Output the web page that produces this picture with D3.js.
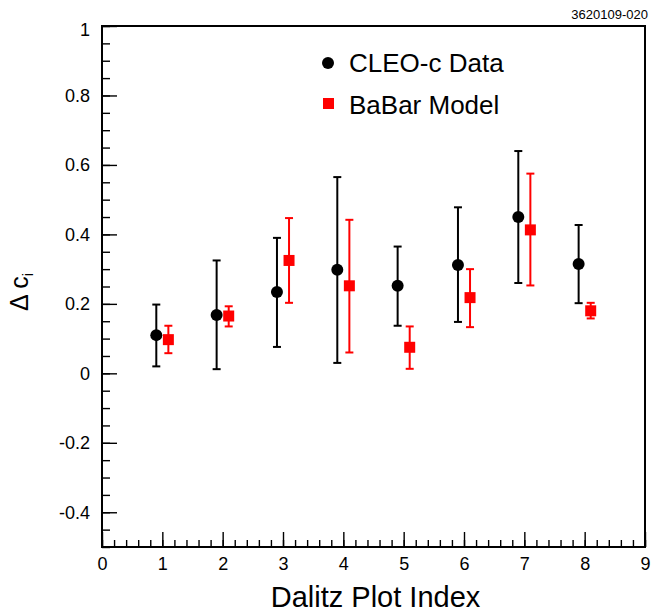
<!DOCTYPE html>
<html>
<head>
<meta charset="utf-8">
<script src="https://cdn.jsdelivr.net/npm/d3@7"></script>
<style>
  body { margin: 0; background: #fff; }
  svg { font-family: "Liberation Sans", Arial, Helvetica, sans-serif; }
  .axis path { display: none; }
  .axis line { stroke: #000; stroke-width: 1.4; }
  .axis text { font-size: 18px; fill: #000; }
</style>
</head>
<body>
<div id="chart"></div>
<script>
// Dalitz plot bins
var bins = [1, 2, 3, 4, 5, 6, 7, 8];

// CLEO-c data: value, lower and upper end of error bar
var cleoVal = [0.110, 0.168, 0.234, 0.298, 0.252, 0.312, 0.450, 0.315];
var cleoLo  = [0.020, 0.012, 0.076, 0.030, 0.137, 0.148, 0.260, 0.202];
var cleoHi  = [0.198, 0.325, 0.390, 0.565, 0.365, 0.478, 0.640, 0.427];

// BaBar model
var babarVal = [0.097, 0.165, 0.325, 0.252, 0.075, 0.218, 0.413, 0.180];
var babarLo  = [0.058, 0.135, 0.203, 0.060, 0.013, 0.133, 0.253, 0.158];
var babarHi  = [0.137, 0.193, 0.447, 0.442, 0.135, 0.300, 0.575, 0.203];

var xTicks = [0, 1, 2, 3, 4, 5, 6, 7, 8, 9];
var yTicks = [-0.4, -0.2, 0, 0.2, 0.4, 0.6, 0.8, 1];
var yTickLabels = ['-0.4', '-0.2', '0', '0.2', '0.4', '0.6', '0.8', '1'];

var W = 651, H = 614;
var m = {left: 102, right: 645, top: 26, bottom: 547};

var svg = d3.select('#chart').append('svg')
  .attr('width', W)
  .attr('height', H);

var x = d3.scaleLinear().domain([0, 9]).range([m.left, m.right]);
var y = d3.scaleLinear().domain([-0.5, 1]).range([m.bottom, m.top]);

// minor ticks
svg.append('g')
  .attr('class', 'axis')
  .attr('transform', 'translate(0,' + m.bottom + ')')
  .call(d3.axisBottom(x).tickValues(d3.range(0, 9.001, 0.2)).tickSize(-7).tickFormat(''));

svg.append('g')
  .attr('class', 'axis')
  .attr('transform', 'translate(' + m.left + ',0)')
  .call(d3.axisLeft(y).tickValues(d3.range(-0.5, 1.001, 0.05)).tickSize(-8).tickFormat(''));

// major ticks + labels
svg.append('g')
  .attr('class', 'axis')
  .attr('transform', 'translate(0,' + m.bottom + ')')
  .call(d3.axisBottom(x).tickValues(xTicks).tickSize(-15).tickPadding(10).tickFormat(d3.format('d')));

var yAx = svg.append('g')
  .attr('class', 'axis')
  .attr('transform', 'translate(' + m.left + ',0)')
  .call(d3.axisLeft(y).tickValues(yTicks).tickSize(-15).tickPadding(12)
    .tickFormat(function(d, i) { return yTickLabels[i]; }));

// top label sits a little below the frame corner
yAx.selectAll('.tick text').filter(function(d) { return d === 1; }).attr('y', 4);

// frame
svg.append('rect')
  .attr('x', m.left)
  .attr('y', m.top)
  .attr('width', m.right - m.left)
  .attr('height', m.bottom - m.top)
  .attr('fill', 'none')
  .attr('stroke', '#000')
  .attr('stroke-width', 2);

function drawSeries(vals, lo, hi, offset, color, isCircle) {
  var g = svg.append('g');
  var data = bins.map(function(b, i) {
    return {x: b + offset, v: vals[i], lo: lo[i], hi: hi[i]};
  });

  g.selectAll('line.bar')
    .data(data)
    .enter().append('line')
    .attr('x1', function(d) { return x(d.x); })
    .attr('x2', function(d) { return x(d.x); })
    .attr('y1', function(d) { return y(d.lo); })
    .attr('y2', function(d) { return y(d.hi); })
    .attr('stroke', color)
    .attr('stroke-width', 2);

  ['lo', 'hi'].forEach(function(k) {
    g.selectAll('line.cap-' + k)
      .data(data)
      .enter().append('line')
      .attr('x1', function(d) { return x(d.x) - 4; })
      .attr('x2', function(d) { return x(d.x) + 4; })
      .attr('y1', function(d) { return y(d[k]); })
      .attr('y2', function(d) { return y(d[k]); })
      .attr('stroke', color)
      .attr('stroke-width', 2);
  });

  if (isCircle) {
    g.selectAll('circle')
      .data(data)
      .enter().append('circle')
      .attr('cx', function(d) { return x(d.x); })
      .attr('cy', function(d) { return y(d.v); })
      .attr('r', 6)
      .attr('fill', color);
  } else {
    g.selectAll('rect')
      .data(data)
      .enter().append('rect')
      .attr('x', function(d) { return x(d.x) - 5.5; })
      .attr('y', function(d) { return y(d.v) - 5.5; })
      .attr('width', 11)
      .attr('height', 11)
      .attr('fill', color);
  }
}

drawSeries(cleoVal, cleoLo, cleoHi, -0.1, '#000', true);
drawSeries(babarVal, babarLo, babarHi, 0.1, '#ff0000', false);

// legend
svg.append('circle').attr('cx', 328).attr('cy', 63).attr('r', 6).attr('fill', '#000');
svg.append('text').attr('x', 349).attr('y', 72).attr('font-size', 26).text('CLEO-c Data');
svg.append('rect').attr('x', 323).attr('y', 98).attr('width', 11).attr('height', 11).attr('fill', '#ff0000');
svg.append('text').attr('x', 349).attr('y', 114).attr('font-size', 26).text('BaBar Model');

// axis titles
svg.append('text')
  .attr('x', (m.left + m.right) / 2 + 2)
  .attr('y', 607)
  .attr('text-anchor', 'middle')
  .attr('font-size', 29)
  .text('Dalitz Plot Index');

var yt = svg.append('text')
  .attr('transform', 'translate(28,311) rotate(-90)')
  .attr('font-size', 25);
yt.append('tspan').text('\u0394 c');
yt.append('tspan').attr('font-size', 15).attr('dy', 5).text('i');

svg.append('text')
  .attr('x', 648)
  .attr('y', 19)
  .attr('text-anchor', 'end')
  .attr('font-size', 13)
  .text('3620109-020');
</script>
</body>
</html>
